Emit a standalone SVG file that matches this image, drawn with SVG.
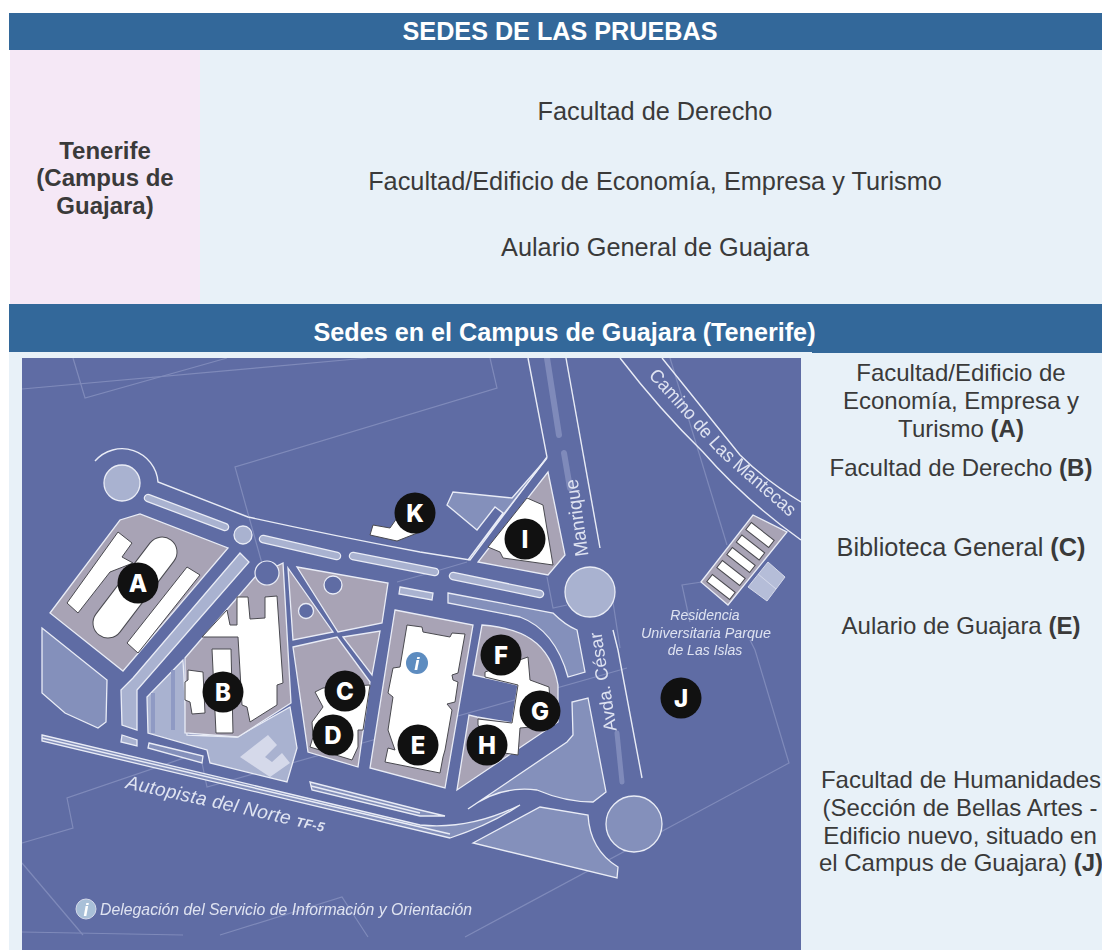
<svg xmlns="http://www.w3.org/2000/svg" width="1102" height="950" viewBox="0 0 1102 950">
<style>
text{font-family:"Liberation Sans",Arial,sans-serif}
.t{font-size:24px;fill:#3a3a3a;text-anchor:middle}
.tl{font-size:25.3px}
.h{font-size:25.2px;fill:#fff;font-weight:bold;text-anchor:middle}
.b{font-weight:bold}
.thin{fill:none;stroke:#7f8aba;stroke-width:1.2}
.w{fill:none;stroke:#e9ecf6;stroke-width:1.4}
.lt{fill:#8490bb;stroke:#e9ecf6;stroke-width:1.3}
.pl{fill:#a9b2d0;stroke:#e9ecf6;stroke-width:1.3}
.gr{fill:#a8a3b5;stroke:#e9ecf6;stroke-width:1.3}
.bd{fill:#fff;stroke:#4a4a50;stroke-width:1}
.pin{fill:#111}
.l{font-family:Inter,"Liberation Sans",sans-serif;font-size:24px;font-weight:800;fill:#fff;text-anchor:middle}
.m{font-family:"Liberation Sans Narrow","Liberation Sans",sans-serif;fill:#dfe3f1}
.i{font-style:italic}
</style>
<defs>
<filter id="soft" x="0" y="0" width="1" height="1"><feGaussianBlur stdDeviation="0.55"/></filter>
<clipPath id="mapclip"><rect x="22" y="358" width="779" height="592"/></clipPath>
<path id="camino" d="M648,376 C676,406 694,428 716,452 C739,474 764,494 787,515"/>
</defs>
<rect width="1102" height="950" fill="#fff"/>
<g id="table">
<rect x="9" y="352" width="1093" height="598" fill="#e8f1f8"/>
<rect x="10" y="50" width="190" height="254" fill="#f5e8f6"/>
<rect x="200" y="50" width="902" height="254" fill="#e8f1f8"/>
<rect x="9" y="13" width="1093" height="37" fill="#33689a"/>
<rect x="9" y="304" width="1093" height="48" fill="#33689a"/>
<rect x="812" y="352" width="290" height="1" fill="#33689a"/>
</g>
<g id="table-text">
<text class="h" x="560" y="40">SEDES DE LAS PRUEBAS</text>
<text class="t b" x="105" y="159">Tenerife</text>
<text class="t b" x="105" y="186">(Campus de</text>
<text class="t b" x="105" y="214">Guajara)</text>
<text class="t tl" x="655" y="120">Facultad de Derecho</text>
<text class="t tl" x="655" y="190">Facultad/Edificio de Economía, Empresa y Turismo</text>
<text class="t tl" x="655" y="256">Aulario General de Guajara</text>
<text class="h" x="564.5" y="341">Sedes en el Campus de Guajara (Tenerife)</text>
<text class="t" x="961" y="381">Facultad/Edificio de</text>
<text class="t" x="961" y="409">Economía, Empresa y</text>
<text class="t" x="961" y="437">Turismo <tspan class="b">(A)</tspan></text>
<text class="t" x="961" y="476">Facultad de Derecho <tspan class="b">(B)</tspan></text>
<text class="t tl" x="961" y="556">Biblioteca General <tspan class="b">(C)</tspan></text>
<text class="t" x="961" y="634">Aulario de Guajara <tspan class="b">(E)</tspan></text>
<text class="t" x="961" y="788">Facultad de Humanidades</text>
<text class="t" x="960" y="816">(Sección de Bellas Artes -</text>
<text class="t" x="960" y="844">Edificio nuevo, situado en</text>
<text class="t" x="961" y="871">el Campus de Guajara) <tspan class="b">(J)</tspan></text>
</g>
<g id="map" clip-path="url(#mapclip)">
<g filter="url(#soft)">
<rect x="22" y="358" width="779" height="592" fill="#5f6ca4"/>
<g id="thin-lines">
<path class="thin" d="M73,358 L85,398 L227,358"/>
<path class="thin" d="M22,389 L367,358"/>
<path class="thin" d="M490,358 L497,388 L235,467 L268,585"/>
<path class="thin" d="M670,358 L727,545"/>
<path class="thin" d="M702,582 L682,585 L690,622"/>
<path class="thin" d="M750,640 L755,650 L789,763 L465,937"/>
<path class="thin" d="M547,577 L553,608 L567,605"/>
<path class="thin" d="M613,602 L620,648"/>
<path class="thin" d="M22,843 L73,828 L67,798 L187,757 L202,763 L207,787 L373,740 L627,668"/>
<path class="thin" d="M22,863 L83,935"/>
<path class="thin" d="M22,932 L183,935"/>
<path class="thin" d="M220,935 L342,897 L368,937"/>
<path class="thin" d="M467,562 L433,572 M397,582 L433,572"/>
</g>
<g id="roads">
<path class="w" d="M95,461 A36,36 0 0 1 158,482 L248,517 Q330,535 420,552 L470,560 L547,457 L528,358"/>
<path class="w" d="M566,358 L600,548"/>
<path class="w" d="M620,358 Q660,410 703,452 Q745,500 801,540"/>
<path class="w" d="M662,358 Q700,405 740,455 Q765,480 801,502"/>
<path class="w" d="M618,650 L642,778 M613,630 L618,650"/>
<path d="M547,358 L559,435 M564,453 L570,488" fill="none" stroke="#7f8aba" stroke-width="6" stroke-linecap="round"/>
<path d="M617,733 L622,782" fill="none" stroke="#7f8aba" stroke-width="5" stroke-linecap="round"/>
<g fill="#a9b2d0" stroke="#e9ecf6" stroke-width="1.3">
<path d="M148,498 L225,527" stroke-width="8.5" stroke-linecap="round"/>
<path d="M148,498 L225,527" stroke="#a9b2d0" stroke-width="6" stroke-linecap="round"/>
<path d="M263,539 L337,556" stroke-width="8.5" stroke-linecap="round"/>
<path d="M263,539 L337,556" stroke="#a9b2d0" stroke-width="6" stroke-linecap="round"/>
<path d="M353,556 L435,572" stroke-width="8.5" stroke-linecap="round"/>
<path d="M353,556 L435,572" stroke="#a9b2d0" stroke-width="6" stroke-linecap="round"/>
<path d="M453,576 L540,594" stroke-width="8.5" stroke-linecap="round"/>
<path d="M453,576 L540,594" stroke="#a9b2d0" stroke-width="6" stroke-linecap="round"/>
<path d="M400,587 L433,593 L432,600 L399,594 Z"/>
<path d="M122,735 L137,740 L137,746 L121,742 Z"/>
<path d="M240,553 L249,562 L137,690 L137,730 L122,725 L121,690 L133,678 Z"/>
</g>
<path class="lt" d="M448,593 L553,613 Q565,625 577,630 L585,672 L568,677 Q555,630 520,617 L448,603 Z"/>
<path class="lt" d="M42,628 L107,680 L106,722 L98,728 L65,713 L42,693 Z"/>
<path class="lt" d="M447,505 L453,492 L512,498 L547,458 L468,560 L503,513 L495,507 L477,530 Z"/>
<path class="lt" d="M149,743 L203,756 L202,763 L148,748 Z"/>
<path class="lt" d="M42,735 L420,825 Q470,830 520,805 Q490,825 450,838 L42,741 Z"/>
<path class="w" stroke-width="1" d="M42,738 L450,834"/>
<path class="lt" d="M310,782 L420,810 L445,816 L420,816 L312,790 Z"/>
<path class="w" stroke-width="1" d="M311,786 L420,813"/>
<path class="lt" d="M468,809 L567,742 L573,735 L572,702 L588,698 L606,792 L593,802 Q565,802 537,790 Q500,785 468,809 Z"/>
<path class="lt" d="M473,843 L540,807 L588,815 Q590,850 618,867 L617,878 Z"/>
<circle class="lt" cx="634" cy="824" r="28"/>
<circle class="pl" cx="590" cy="592" r="25"/>
<circle class="pl" cx="122" cy="483" r="18"/>
<circle class="pl" cx="243" cy="535" r="9"/>
</g>
<g id="blocks">
<path class="gr" d="M50,613 L120,520 L140,514 L228,548 L123,671 Z"/>
<path class="pl" d="M183,660 L147,697 L148,733 L197,747 L207,750 L210,763 L287,782 L297,748 L290,707 L237,737 L187,735 Z"/>
<path d="M153,693 L153,733 M173,670 L173,730" stroke="#8f9ac4" stroke-width="4" fill="none"/>
<path d="M240,757 L268,735 L277,745 L265,757 L272,762 L282,753 L290,763 L270,777 Z" fill="#d5d9ea"/>
<path class="gr" d="M185,658 L255,577 L283,563 L291,703 L238,737 L185,733 Z"/>
<circle cx="267" cy="573" r="12" fill="#5f6ca4" stroke="#e9ecf6" stroke-width="1.2"/>
<path class="gr" d="M297,567 L388,583 L382,623 L338,632 Z"/>
<path class="gr" d="M288,568 L333,632 L293,640 Z"/>
<path class="gr" d="M293,647 L337,637 L370,682 L358,767 L308,752 Z"/>
<path class="gr" d="M343,637 L380,631 L372,675 Z"/>
<circle cx="333" cy="585" r="9" fill="#5f6ca4" stroke="#e9ecf6" stroke-width="1.3"/>
<circle cx="306" cy="611" r="7.5" fill="#5f6ca4" stroke="#e9ecf6" stroke-width="1.3"/>
<path class="gr" d="M395,610 L473,625 L445,788 L370,768 Z"/>
<path class="gr" d="M482,625 C520,628 550,640 558,685 L558,722 L457,790 L469,715 L477,717 L512,723 L518,685 L473,675 Z"/>
<path class="gr" d="M548,472 L565,555 L548,575 L478,562 Z"/>
<path class="gr" stroke="#4a4a50" d="M753,515 L787,532 L728,605 L701,582 Z"/>
<path d="M768,562 L785,577 L767,601 L748,587 Z M758,574 L776,589" fill="#b5bdd8" stroke="#d5d9ea" stroke-width="1"/>
</g>
<g id="buildings">
<path class="bd" d="M67,603 L118,532 L132,543 L122,557 L133,563 L110,572 L78,613 Z"/>
<path d="M162,552 L108,623" fill="none" stroke="#4a4a50" stroke-width="31" stroke-linecap="round"/>
<path d="M162,552 L108,623" fill="none" stroke="#fff" stroke-width="29" stroke-linecap="round"/>
<path class="bd" d="M187,567 L200,575 L138,653 L127,643 Z"/>
<path class="bd" d="M202,637 L227,610 L230,625 L237,625 L237,597 L248,597 L250,619 L265,618 L265,597 L277,596 L283,683 L277,685 L277,705 L250,722 L247,707 L242,705 L238,637 Z"/>
<path class="bd" d="M212,649 L231,649 L233,733 L216,733 Z"/>
<path class="bd" d="M188,670 L203,672 L205,713 L192,714 L190,702 L185,700 L185,682 L188,680 Z"/>
<path class="bd" d="M315,692 L323,688 L370,685 L363,730 L358,730 L358,747 L352,760 L310,747 L313,737 L312,722 L323,707 Z"/>
<path class="bd" d="M407,625 L422,627 L423,632 L450,637 L452,633 L465,634 L458,673 L452,675 L453,680 L458,682 L455,702 L447,704 L452,710 L445,750 L443,757 L440,773 L385,762 L388,748 L395,750 L388,730 L393,697 L388,693 L393,668 L400,667 Z"/>
<path class="bd" d="M485,672 L528,657 L530,680 L549,687 L552,725 L520,728 L518,755 L497,752 L478,725 L478,719 L512,723 L518,685 L485,677 Z"/>
<path class="bd" d="M527,498 L543,505 L553,565 L503,558 L500,552 L488,547 Z"/>
<path class="bd" d="M370,535 L373,525 L390,528 L397,518 L420,532 L397,541 Z"/>
<g class="bd" stroke="#4a4a50">
<rect x="-14.5" y="-4.5" width="29" height="9" transform="translate(760,535) rotate(38)"/>
<rect x="-14.5" y="-4.5" width="29" height="9" transform="translate(750.500,547.500) rotate(38)"/>
<rect x="-14.5" y="-4.5" width="29" height="9" transform="translate(741,560) rotate(38)"/>
<rect x="-14.5" y="-4.5" width="29" height="9" transform="translate(731,573) rotate(38)"/>
<rect x="-14.5" y="-4.5" width="29" height="9" transform="translate(721,587) rotate(38)"/>
</g>
<circle cx="417" cy="663" r="11" fill="#5d8cc0"/>
<text x="417" y="670" font-size="19" font-style="italic" font-weight="bold" fill="#fff" text-anchor="middle">i</text>
</g>
<g id="map-labels">
<text class="m" font-size="19"><textPath href="#camino" textLength="200" lengthAdjust="spacingAndGlyphs">Camino de Las Mantecas</textPath></text>
<text class="m" font-size="19" text-anchor="middle" transform="translate(583,517) rotate(-98)" textLength="78" lengthAdjust="spacingAndGlyphs">Manrique</text>
<text class="m" font-size="18" text-anchor="middle" transform="translate(609,681) rotate(-99)" textLength="100" lengthAdjust="spacingAndGlyphs">Avda. César</text>
<text class="m i" font-size="14" fill="#c8cde2" text-anchor="middle" x="705" y="620">Residencia</text>
<text class="m i" font-size="15" text-anchor="middle" x="706" y="638" textLength="130" lengthAdjust="spacingAndGlyphs">Universitaria Parque</text>
<text class="m i" font-size="14" text-anchor="middle" x="705" y="655">de Las Islas</text>
<text class="m i" font-size="19" transform="translate(125,788) rotate(12.500)" textLength="203" lengthAdjust="spacing">Autopista del Norte <tspan class="b" font-size="13">TF-5</tspan></text>
<circle cx="86" cy="909" r="10" fill="#a9c0d8" stroke="#d5d9ea"/>
<text x="86" y="916" font-size="18" font-style="italic" font-weight="bold" fill="#fff" text-anchor="middle">i</text>
<text class="m i" font-size="17" x="100" y="915" textLength="372" lengthAdjust="spacingAndGlyphs">Delegación del Servicio de Información y Orientación</text>
</g>
</g>
<g id="pin-A"><circle class="pin" cx="138" cy="583" r="20.5"/><text class="l" x="138" y="591.500">A</text></g>
<g id="pin-B"><circle class="pin" cx="223" cy="692" r="20.5"/><text class="l" x="223" y="700.500">B</text></g>
<g id="pin-C"><circle class="pin" cx="345" cy="691" r="20.5"/><text class="l" x="345" y="699.500">C</text></g>
<g id="pin-D"><circle class="pin" cx="333" cy="735" r="20.5"/><text class="l" x="333" y="743.500">D</text></g>
<g id="pin-E"><circle class="pin" cx="418" cy="745" r="20.5"/><text class="l" x="418" y="753.500">E</text></g>
<g id="pin-F"><circle class="pin" cx="501" cy="655" r="20.5"/><text class="l" x="501" y="663.500">F</text></g>
<g id="pin-G"><circle class="pin" cx="540" cy="711" r="20.5"/><text class="l" x="540" y="719.500">G</text></g>
<g id="pin-H"><circle class="pin" cx="487" cy="745" r="20.5"/><text class="l" x="487" y="753.500">H</text></g>
<g id="pin-I"><circle class="pin" cx="525" cy="539" r="20.5"/><text class="l" x="525" y="547.500">I</text></g>
<g id="pin-J"><circle class="pin" cx="681" cy="698" r="20.5"/><text class="l" x="681" y="706.500">J</text></g>
<g id="pin-K"><circle class="pin" cx="415" cy="513" r="20.5"/><text class="l" x="415" y="521.500">K</text></g>
</g>
</svg>
